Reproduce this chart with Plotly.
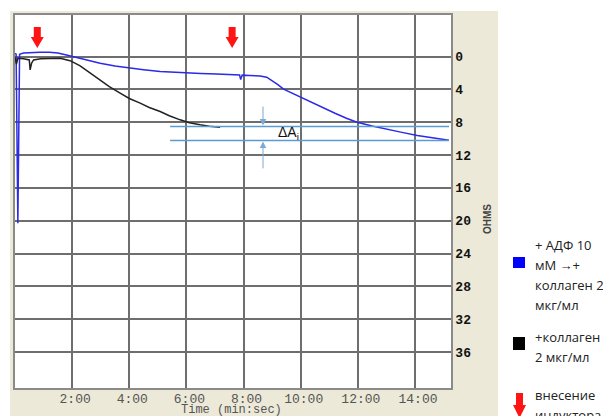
import plotly.graph_objects as go

# ---- data (time in minutes, resistance in ohms) ----
blue_t = [0.00, 0.04, 0.10, 0.16, 0.30, 0.60, 0.88, 1.20, 1.50, 1.80, 1.93, 2.30, 2.60, 2.98,
          3.50, 4.03, 4.50, 5.08, 5.50, 6.01, 6.50, 7.06, 7.50, 7.86, 7.90, 7.95, 8.20, 8.58,
          8.81, 9.00, 9.20, 9.40, 9.70, 10.00, 10.40, 10.80, 11.20, 11.60, 11.97, 12.50,
          13.00, 13.50, 14.08, 14.50, 15.00, 15.19]
blue_v = [-0.40, -0.30, 20.30, -0.30, -0.45, -0.45, -0.54, -0.55, -0.45, -0.20, -0.09, 0.25, 0.50, 0.80,
          1.15, 1.41, 1.60, 1.82, 1.90, 1.95, 2.05, 2.10, 2.15, 2.23, 2.80, 2.25, 2.30, 2.35,
          2.50, 2.90, 3.40, 3.95, 4.45, 4.87, 5.60, 6.30, 6.90, 7.50, 8.00, 8.45,
          8.85, 9.20, 9.60, 9.85, 10.10, 10.20]

black_t = [0.00, 0.05, 0.10, 0.30, 0.50, 0.53, 0.58, 0.65, 0.90, 1.23, 1.58, 1.93, 2.28, 2.60,
           2.98, 3.30, 3.68, 4.00, 4.38, 4.70, 5.08, 5.40, 5.78, 6.10, 6.48, 6.80, 7.18]
black_v = [0.07, 0.90, 0.20, 0.25, 0.40, 1.62, 0.80, 0.40, 0.25, 0.20, 0.20, 0.49, 1.13, 1.90,
           2.83, 3.65, 4.45, 5.10, 5.67, 6.20, 6.69, 7.20, 7.70, 8.05, 8.30, 8.48, 8.59]

induction_times = [0.78, 7.60]

x_tickvals = [2, 4, 6, 8, 10, 12, 14]
x_ticktext = ["2:00", "4:00", "6:00", "8:00", "10:00", "12:00", "14:00"]
y_tickvals = [0, 4, 8, 12, 16, 20, 24, 28, 32, 36]

delta_levels = [8.52, 10.22]
delta_span = [5.43, 15.19]
delta_marker_t = 8.68

legend_blue = ["+ АДФ 10", "мМ →+", "коллаген 2", "мкг/мл"]
legend_black = ["+коллаген", "2 мкг/мл"]
legend_arrow = ["внесение", "индуктора"]

# ---- layout geometry (pixels); figure is slightly taller than the window,
# so the bottom of the legend is clipped like in the original screenshot ----
W, H = 603, 426
L, R, T, B = 15, 451, 15, 388
XR = [0, 15.26]
YR = [40.39, -5.08]

def px(x):
    return (x - L) / (R - L)

def py(y):
    return (B - y) / (B - T)

BEIGE = "#ECE9D8"
RED = "#FF1414"
LBLUE = "#5B9BD5"

fig = go.Figure()
fig.add_trace(go.Scatter(x=blue_t, y=blue_v, mode="lines",
                         line=dict(color="#2A2AE8", width=1.5), showlegend=False))
fig.add_trace(go.Scatter(x=black_t, y=black_v, mode="lines",
                         line=dict(color="#222222", width=1.5), showlegend=False))

shapes = []
# beige panel, with white plotting area on top of it
shapes.append(dict(type="rect", xref="paper", yref="paper", layer="below",
                   x0=px(10), x1=px(498), y0=py(426), y1=py(11),
                   fillcolor=BEIGE, line=dict(width=0)))
shapes.append(dict(type="rect", xref="paper", yref="paper", layer="below",
                   x0=0, x1=1, y0=0, y1=1, fillcolor="white", line=dict(width=0)))

# red induction arrows (data coords)
xpp = (XR[1] - XR[0]) / (R - L)  # minutes per pixel
ypp = (YR[0] - YR[1]) / (B - T)  # ohms per pixel
for t in induction_times:
    top = YR[1] + (27 - T) * ypp
    neck = YR[1] + (37 - T) * ypp
    tip = YR[1] + (48 - T) * ypp
    hs, hh = 3.5 * xpp, 6.5 * xpp
    path = (f"M{t-hs},{top} L{t+hs},{top} L{t+hs},{neck} L{t+hh},{neck} "
            f"L{t},{tip} L{t-hh},{neck} L{t-hs},{neck} Z")
    shapes.append(dict(type="path", xref="x", yref="y", path=path,
                       fillcolor=RED, line=dict(width=0)))

# delta lines
for lv in delta_levels:
    shapes.append(dict(type="line", xref="x", yref="y", x0=delta_span[0], x1=delta_span[1],
                       y0=lv, y1=lv, line=dict(color=LBLUE, width=1.5)))

# legend glyphs
shapes.append(dict(type="rect", xref="paper", yref="paper", x0=px(513), x1=px(525),
                   y0=py(268), y1=py(257), fillcolor="#0000FF", line=dict(width=0)))
shapes.append(dict(type="rect", xref="paper", yref="paper", x0=px(513), x1=px(525),
                   y0=py(350), y1=py(337), fillcolor="#000000", line=dict(width=0)))
cx = 519.5
lp = (f"M{px(cx-3.5)},{py(393)} L{px(cx+3.5)},{py(393)} L{px(cx+3.5)},{py(405)} "
      f"L{px(cx+6.5)},{py(405)} L{px(cx)},{py(418)} L{px(cx-6.5)},{py(405)} "
      f"L{px(cx-3.5)},{py(405)} Z")
shapes.append(dict(type="path", xref="paper", yref="paper", path=lp,
                   fillcolor=RED, line=dict(width=0)))

annotations = []
# delta arrows
annotations.append(dict(x=delta_marker_t, y=8.40, ax=delta_marker_t, ay=5.9,
                        xref="x", yref="y", axref="x", ayref="y", text="",
                        showarrow=True, arrowhead=2, arrowsize=1.3, arrowwidth=1,
                        arrowcolor="#7AAAD6"))
annotations.append(dict(x=delta_marker_t, y=10.35, ax=delta_marker_t, ay=13.8,
                        xref="x", yref="y", axref="x", ayref="y", text="",
                        showarrow=True, arrowhead=2, arrowsize=1.3, arrowwidth=1,
                        arrowcolor="#7AAAD6"))
annotations.append(dict(x=9.57, y=9.35, xref="x", yref="y", text="ΔA<sub>i</sub>",
                        xanchor="center", yanchor="middle",
                        showarrow=False, font=dict(family="Liberation Sans", size=14, color="#111")))

# axis titles
annotations.append(dict(x=px(231), y=py(410), xref="paper", yref="paper",
                        xanchor="center", yanchor="middle",
                        text="Time (min:sec)", showarrow=False,
                        font=dict(family="Liberation Mono", size=12, color="#555")))
annotations.append(dict(x=px(488), y=py(219), xref="paper", yref="paper",
                        xanchor="center", yanchor="middle",
                        text="OHMS", showarrow=False, textangle=-90,
                        font=dict(family="Liberation Sans", size=10, color="#444", weight="bold")))

# legend text
lf = dict(family="Open Sans", size=13, color="#222")
for i, s in enumerate(legend_blue):
    annotations.append(dict(x=px(533), y=py(245 + 20 * i), xref="paper", yref="paper",
                            xanchor="left", yanchor="middle", text=s, showarrow=False, font=lf))
for i, s in enumerate(legend_black):
    annotations.append(dict(x=px(533), y=py(337 + 20 * i), xref="paper", yref="paper",
                            xanchor="left", yanchor="middle", text=s, showarrow=False, font=lf))
for i, s in enumerate(legend_arrow):
    annotations.append(dict(x=px(533), y=py(395 + 20 * i), xref="paper", yref="paper",
                            xanchor="left", yanchor="middle", text=s, showarrow=False, font=lf))

fig.update_layout(
    width=W, height=H,
    margin=dict(l=L, r=W - R, t=T, b=H - B, pad=0),
    paper_bgcolor="white", plot_bgcolor="white",
    shapes=shapes, annotations=annotations, showlegend=False,
    xaxis=dict(range=XR, tickvals=x_tickvals, ticktext=x_ticktext, showgrid=True,
               gridcolor="#6E6E6E", gridwidth=1.5, zeroline=False,
               showline=True, mirror=True, linecolor="#8A8A8A", linewidth=1.5,
               ticks="", ticklabelshift=3, ticklabelstandoff=-2,
               tickfont=dict(family="Liberation Mono", size=13, color="#555")),
    yaxis=dict(range=YR, side="right", tickvals=y_tickvals, showgrid=True,
               gridcolor="#6E6E6E", gridwidth=1.5, zeroline=False,
               showline=True, mirror=True, linecolor="#8A8A8A", linewidth=1.5,
               ticks="",
               tickfont=dict(family="Liberation Mono", size=13, color="#111", weight="bold")),
)

fig.write_html("out.html", config={"displayModeBar": False},
               post_script="document.body.style.margin='0';document.body.style.overflow='hidden';")
